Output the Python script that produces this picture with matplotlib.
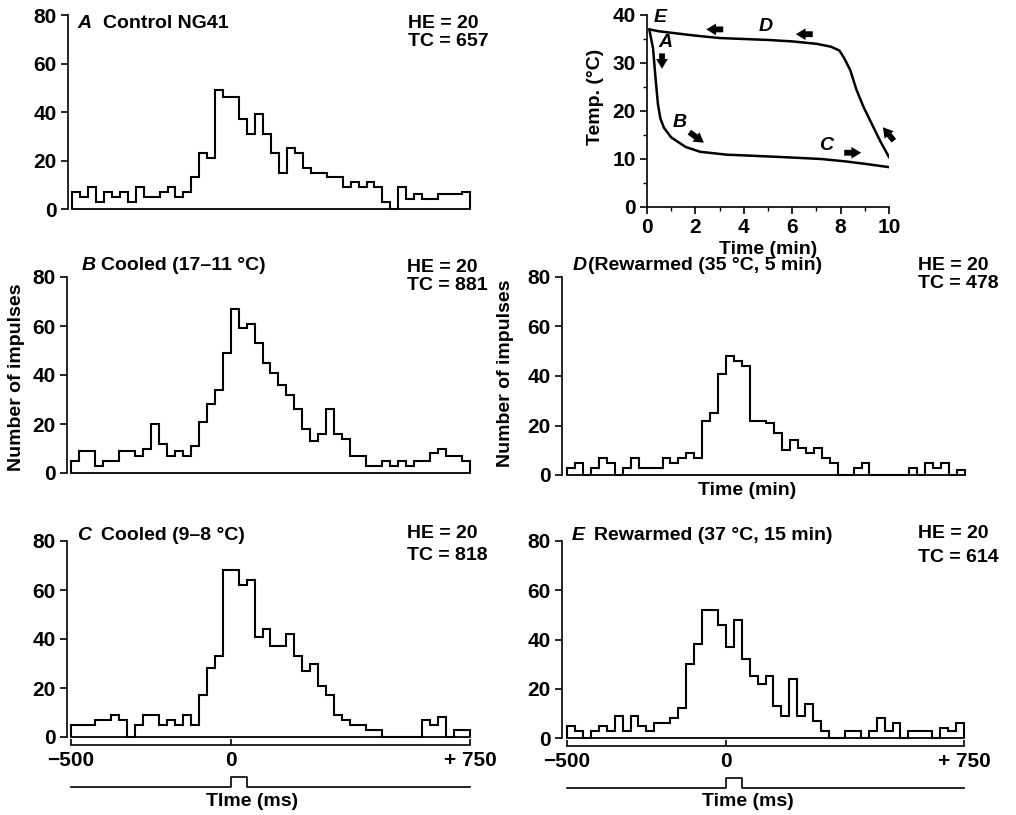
import numpy as np
import matplotlib.pyplot as plt

plt.rcParams['font.family'] = ['Liberation Sans', 'DejaVu Sans']
plt.rcParams['font.weight'] = 'bold'
plt.rcParams['font.size'] = 14
plt.rcParams['xtick.labelsize'] = 15
plt.rcParams['ytick.labelsize'] = 15

W, H = 1016, 815

# 25 ms bins from -500 to +750 ms
edges = np.linspace(-500, 750, 51)

counts_a = [7, 5, 9, 3, 7, 5, 7, 3, 9, 5, 5, 7, 9, 5, 7, 13, 23, 21, 49, 46,
            46, 37, 31, 39, 31, 23, 15, 25, 23, 17, 15, 15, 13, 13, 9, 11, 9, 11, 9, 3,
            0, 9, 4, 6, 4, 4, 6, 6, 6, 7]
counts_b = [5, 9, 9, 3, 5, 5, 9, 9, 7, 10, 20, 12, 7, 9, 7, 11, 21, 28, 34, 49,
            67, 59, 61, 53, 45, 41, 36, 32, 26, 18, 13, 16, 26, 16, 14, 7, 7, 3, 3, 5,
            3, 5, 3, 5, 5, 8, 10, 7, 7, 5]
counts_c = [5, 5, 5, 7, 7, 9, 7, 0, 5, 9, 9, 5, 7, 5, 9, 5, 17, 28, 33, 68,
            68, 62, 64, 41, 44, 37, 37, 42, 33, 27, 30, 21, 17, 9, 7, 5, 5, 3, 3, 0,
            0, 0, 0, 0, 7, 5, 8, 0, 3, 3]
counts_d = [3, 5, 0, 3, 7, 5, 0, 3, 7, 3, 3, 3, 7, 5, 7, 9, 7, 22, 25, 41,
            48, 46, 44, 22, 22, 21, 17, 10, 14, 11, 9, 11, 7, 5, 0, 0, 3, 5, 0, 0,
            0, 0, 0, 3, 0, 5, 3, 5, 0, 2]
counts_e = [5, 3, 0, 3, 5, 3, 9, 3, 9, 5, 3, 6, 6, 8, 12, 30, 38, 52, 52, 46,
            37, 48, 32, 25, 22, 25, 13, 9, 24, 9, 14, 7, 3, 0, 0, 3, 3, 0, 3, 8,
            3, 6, 0, 3, 3, 3, 0, 4, 3, 6]

panel_letters = ['A', 'B', 'C', 'D', 'E']
panel_titles = ['Control NG41', 'Cooled (17–11 °C)', 'Cooled (9–8 °C)',
                '(Rewarmed (35 °C, 5 min)', 'Rewarmed (37 °C, 15 min)']
he_values = [20, 20, 20, 20, 20]
tc_values = [657, 881, 818, 478, 614]

# temperature record (min, deg C)
cool_t = [0.1, 0.25, 0.35, 0.45, 0.55, 0.7, 1.0, 1.6, 2.2, 3.3, 4.7, 6.0, 7.2, 8.2, 9.0, 10.0]
cool_T = [36.9, 33.0, 27.0, 21.5, 18.5, 16.5, 14.5, 12.5, 11.5, 10.9, 10.6, 10.3, 10.0, 9.5, 9.0, 8.3]
warm_t = [0.1, 0.5, 1.0, 2.0, 3.0, 4.0, 5.0, 6.0, 7.0, 7.6, 7.95, 8.15, 8.4, 8.65, 8.95, 9.3, 9.65, 10.0]
warm_T = [37.0, 36.6, 36.3, 35.7, 35.2, 35.0, 34.8, 34.5, 34.0, 33.4, 32.6, 31.0, 28.5, 24.5, 20.8, 17.2, 13.6, 10.4]

fig = plt.figure(figsize=(W / 100, H / 100), dpi=100)


def px_axes(left, top, right, bottom):
    return fig.add_axes([left / W, 1 - bottom / H, (right - left) / W, (bottom - top) / H])


def ftext(x, y, s, **kw):
    kw.setdefault('va', 'center')
    fig.text(x / W, 1 - y / H, s, **kw)


def hist_panel(spine_x, h_left, h_right, top, bottom, counts, ms_axis=False):
    ax = px_axes(spine_x, top, h_right + 3, bottom)
    scale = 1250 / (h_right - h_left)
    ax.set_xlim(-500 - (h_left - spine_x) * scale, 750 + 3 * scale)
    ax.set_ylim(0, 80)
    ax.stairs(counts, edges, baseline=0, color='k', lw=1.5, clip_on=False)
    ax.plot([-500, 750], [0, 0], color='k', lw=1.3, clip_on=False)
    for s in ['top', 'right']:
        ax.spines[s].set_visible(False)
    ax.spines['left'].set_linewidth(1.2)
    ax.spines['left'].set_bounds(0, 80)
    ax.set_yticks([0, 20, 40, 60, 80])
    ax.tick_params(axis='y', direction='out', length=5, width=1.2, pad=3)
    if ms_axis:
        ax.spines['bottom'].set_position(('data', -3.3))
        ax.spines['bottom'].set_bounds(-500, 750)
        ax.spines['bottom'].set_linewidth(1.2)
        ax.set_xticks([-500, 0, 750], ['−500', '0', '+ 750'])
        ax.tick_params(axis='x', direction='in', length=4, width=1.2, pad=4)
        # stimulus marker
        ax.plot([-500, 0, 0, 50, 50, 750], [-20.4, -20.4, -16.3, -16.3, -20.4, -20.4],
                color='k', lw=1.2, clip_on=False)
    else:
        ax.spines['bottom'].set_visible(False)
        ax.set_xticks([])
    return ax


hist_panel(68, 72, 470, 15, 209, counts_a)
hist_panel(67, 71, 470, 277, 473, counts_b)
hist_panel(67, 71, 470, 541, 737, counts_c, ms_axis=True)
hist_panel(562, 567, 965, 277, 475, counts_d)
hist_panel(562, 567, 964, 541, 738, counts_e, ms_axis=True)

# panel letters, titles and counts
letter_pos = [(77, 23), (82, 265), (77, 535), (573, 266), (572, 535)]
title_x = [103, 101, 101, 588, 594]
he_pos = [(408, 23), (407, 267), (407, 533), (918, 265), (918, 534)]
tc_y = [42, 286, 556, 283, 557]
for i in range(5):
    lx, ly = letter_pos[i]
    ftext(lx, ly, panel_letters[i], style='italic')
    ftext(title_x[i], ly, panel_titles[i])
    hx, hy = he_pos[i]
    ftext(hx, hy, 'HE = %d' % he_values[i])
    ftext(hx, tc_y[i], 'TC = %d' % tc_values[i])

ftext(17, 377, 'Number of impulses', rotation=90, ha='center')
ftext(505, 373, 'Number of impulses', rotation=90, ha='center')
ftext(747, 491, 'Time (min)', ha='center')
ftext(252, 802, 'TIme (ms)', ha='center')
ftext(748, 802, 'Time (ms)', ha='center')

# temperature inset
axt = px_axes(647, 15, 889, 207)
axt.plot(cool_t, cool_T, color='k', lw=1.8)
axt.plot(warm_t, warm_T, color='k', lw=1.8)
axt.set_xlim(0, 10)
axt.set_ylim(0, 40)
for s in ['top', 'right']:
    axt.spines[s].set_visible(False)
for s in ['left', 'bottom']:
    axt.spines[s].set_linewidth(1.2)
axt.set_xticks([0, 2, 4, 6, 8, 10])
axt.set_xticks([1, 3, 5, 7, 9], minor=True)
axt.set_yticks([0, 10, 20, 30, 40])
axt.set_yticks([5, 15, 25, 35], minor=True)
axt.tick_params(which='major', direction='out', length=5, width=1.2, pad=3)
axt.tick_params(which='minor', direction='out', length=3, width=1.0)
ftext(595, 97, 'Temp. (°C)', rotation=90, ha='center')
ftext(768, 249, 'Time (min)', ha='center')

arrow_kw = dict(arrowstyle='simple,head_width=0.6,head_length=0.5,tail_width=0.3',
                color='k', lw=0, shrinkA=0, shrinkB=0)
arrows = [((0.62, 32.0), (0.62, 28.8)), ((1.75, 15.6), (2.35, 13.4)),
          ((8.15, 11.3), (8.85, 11.3)), ((3.15, 37.0), (2.45, 37.0)),
          ((6.85, 36.0), (6.15, 36.0)), ((10.2, 13.8), (9.75, 16.6))]
for tail, head in arrows:
    axt.annotate('', xy=head, xytext=tail, arrowprops=arrow_kw, annotation_clip=False)

curve_labels = ['E', 'A', 'B', 'C', 'D']
curve_label_pos = [(0.55, 39.5), (0.75, 34.3), (1.35, 17.6), (7.4, 12.9), (4.9, 37.6)]
for lab, (x, y) in zip(curve_labels, curve_label_pos):
    axt.text(x, y, lab, style='italic', ha='center', va='center', clip_on=False)

fig.savefig('out.png', dpi=100)
